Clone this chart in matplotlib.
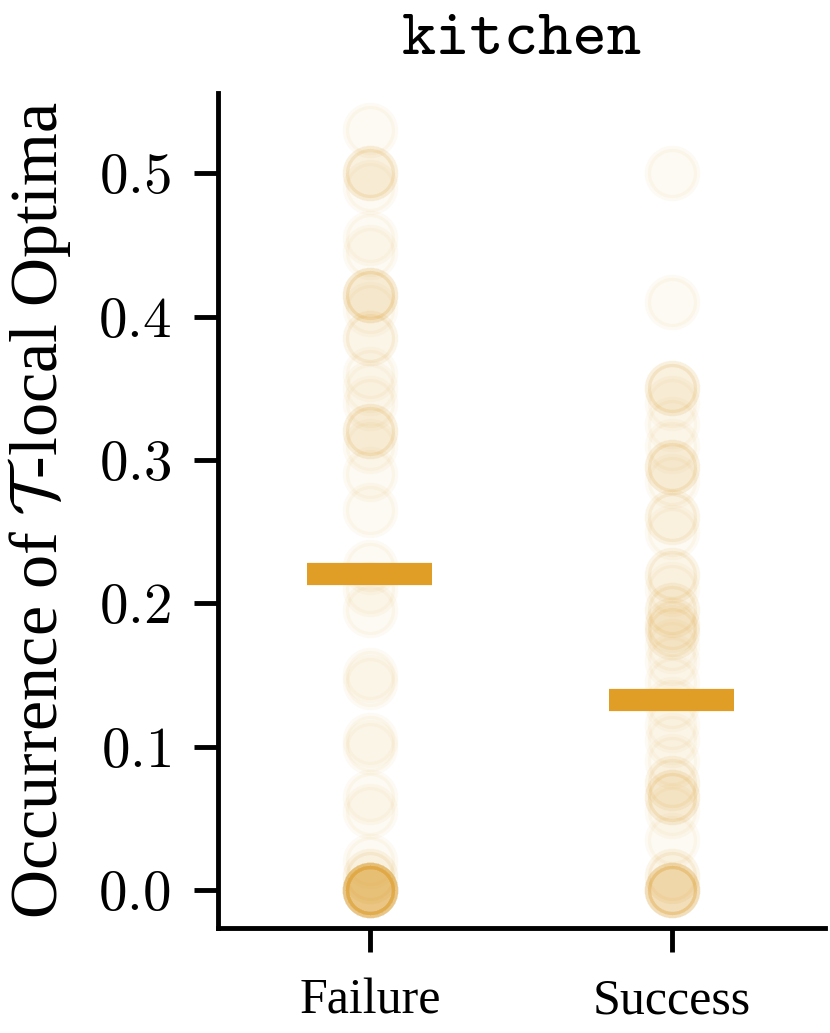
import numpy as np
import matplotlib
matplotlib.use("Agg")
import matplotlib.pyplot as plt
from matplotlib.ticker import FuncFormatter

# ---------------- data ----------------
categories = ["Failure", "Success"]

failure_values = (
    [0.53] + [0.50] * 3 + [0.49, 0.455, 0.445] + [0.415] * 4 + [0.405]
    + [0.385] * 2 + [0.36, 0.35, 0.34] + [0.32] * 3 + [0.31, 0.29, 0.265]
    + [0.225, 0.21, 0.195, 0.15, 0.145, 0.105, 0.10, 0.065, 0.055, 0.02]
    + [0.01] * 2 + [0.0] * 15
)

success_values = (
    [0.50, 0.41] + [0.35] * 3 + [0.34, 0.325, 0.31] + [0.295] * 3 + [0.285]
    + [0.26] * 2 + [0.25] + [0.22] * 2 + [0.21] + [0.195] * 2 + [0.185] * 2
    + [0.18] * 2 + [0.17, 0.16, 0.145, 0.13, 0.115, 0.105, 0.09]
    + [0.075] * 2 + [0.065] * 3 + [0.055, 0.035] + [0.01] * 2 + [0.0] * 7
)

mean_values = [0.2205, 0.1325]

yticks = [0.0, 0.1, 0.2, 0.3, 0.4, 0.5]
title = "kitchen"
ylabel = r"Occurrence of $\mathcal{T}$-local Optima"

# ---------------- style ----------------
plt.rcParams["font.family"] = ["Liberation Serif", "DejaVu Serif"]
plt.rcParams["mathtext.fontset"] = "cm"

color = "#E19E26"

fig = plt.figure(figsize=(8.30, 10.33), dpi=100)
ax = fig.add_axes([0.2627, 0.1016, 0.7313, 0.8085])

groups = [failure_values, success_values]
for i, vals in enumerate(groups):
    vals = np.asarray(vals)
    ax.scatter(np.full(len(vals), i), vals, s=1250, facecolor=color,
               edgecolor=color, linewidths=4.5, alpha=0.05, zorder=2)
    ax.plot([i - 0.207, i + 0.207], [mean_values[i], mean_values[i]],
            color=color, lw=16, solid_capstyle="butt", zorder=3)

ax.set_xlim(-0.503, 1.507)
ax.set_ylim(-0.0265, 0.556)
ax.set_xticks(range(len(categories)))
ax.set_xticklabels(categories)
ax.set_yticks(yticks)
ax.yaxis.set_major_formatter(FuncFormatter(lambda v, p: f"${v:.1f}$"))

for side in ["top", "right"]:
    ax.spines[side].set_visible(False)
for side in ["left", "bottom"]:
    ax.spines[side].set_linewidth(3.5)

ax.tick_params(axis="both", direction="out", length=17, width=3.5, color="black")
ax.tick_params(axis="y", pad=17, labelsize=41)
ax.tick_params(axis="x", pad=19, labelsize=36)

ax.set_ylabel(ylabel, fontsize=49, labelpad=18)
ax.set_title(title, fontfamily="cmtt10", fontsize=47, pad=28)

fig.savefig("out.png", dpi=100)
